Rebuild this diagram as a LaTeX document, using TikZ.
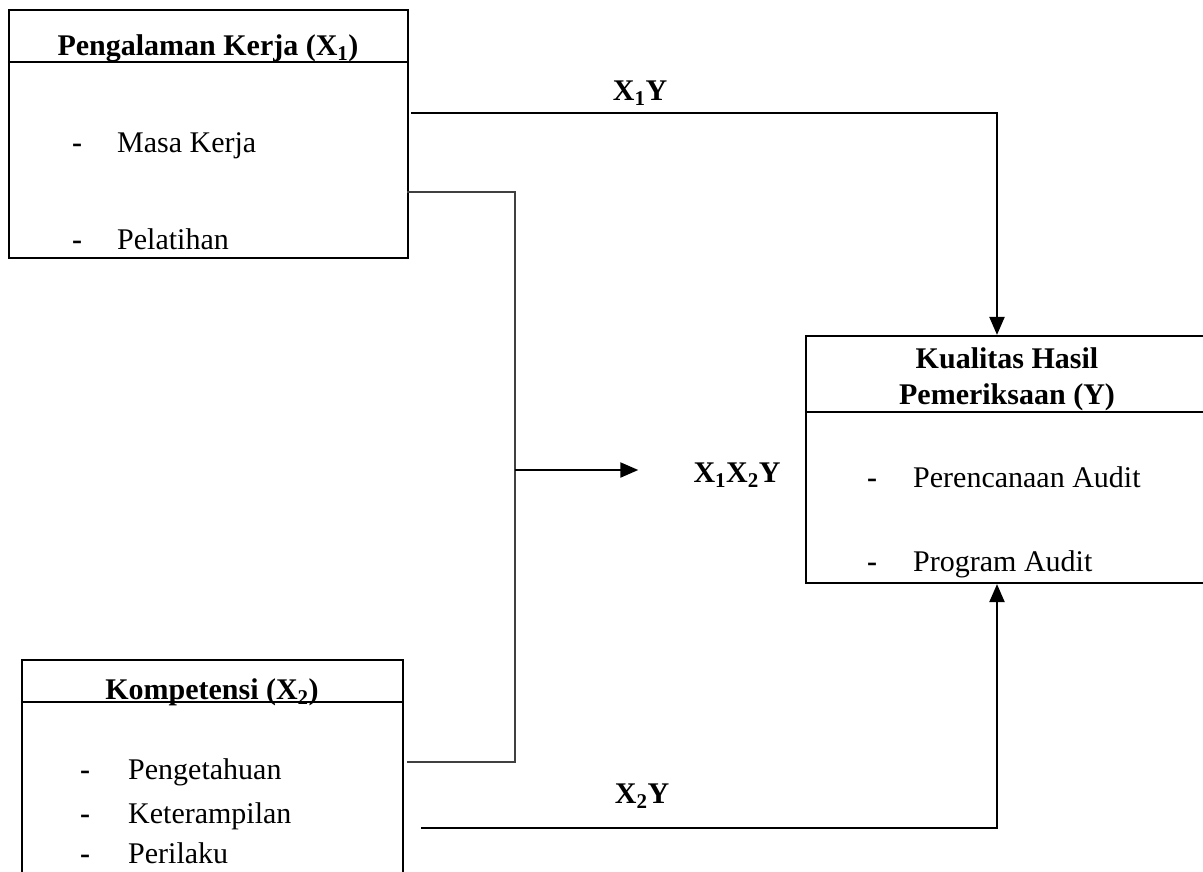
\documentclass[tikz,border=0pt]{standalone}
\usepackage{fontspec}
\setmainfont{Liberation Serif}
\usetikzlibrary{arrows.meta,calc}
\begin{document}
\begin{tikzpicture}[x=1pt,y=-1pt,
  font=\fontsize{30}{36}\selectfont,
  box/.style={draw,line width=2.2pt,rectangle,inner sep=0pt},
  hdr/.style={font=\fontsize{30}{36}\selectfont\bfseries,anchor=base,inner sep=0pt},
  item/.style={anchor=base west,inner sep=0pt},
  dashmark/.style={anchor=base,inner sep=0pt,font=\fontsize{30}{36}\selectfont\bfseries},
  lbl/.style={font=\fontsize{30}{36}\selectfont\bfseries,anchor=base,inner sep=0pt},
  conn/.style={line width=2.2pt,black},
  conng/.style={line width=2.2pt,black!75},
  arr/.style={-{Triangle[length=18pt,width=15pt]}}
]
\clip (0,0) rectangle (1203,871);
\fill[white] (0,0) rectangle (1203,871);

% boxes
\node[box,minimum width=399pt,minimum height=248pt] (x1) at (208.5,134) {};
\node[box,minimum width=420pt,minimum height=247pt] (yb) at (1016,459.5) {};
\node[box,minimum width=381pt,minimum height=240pt] (x2) at (212.5,780) {};

% header separators
\draw[line width=2.2pt] (x1.west |- 0,62) -- (x1.east |- 0,62);
\draw[line width=2.2pt] (yb.west |- 0,412) -- (yb.east |- 0,412);
\draw[line width=2.2pt] (x2.west |- 0,702) -- (x2.east |- 0,702);

% headers
\node[hdr] (h1) at (208,55) {Pengalaman Kerja (X\textsubscript{1})};
\node[hdr] (hy1) at (1007,368) {Kualitas Hasil};
\node[hdr] (hy2) at (1007,404) {Pemeriksaan (Y)};
\node[hdr] (h2) at (212,699) {Kompetensi (X\textsubscript{2})};

% items X1
\node[dashmark] (d11) at (77,152) {-};
\node[item] (i11) at (117,152) {Masa Kerja};
\node[dashmark] (d12) at (77,249) {-};
\node[item] (i12) at (117,249) {Pelatihan};

% items Y
\node[dashmark] (dy1) at (872,487) {-};
\node[item] (iy1) at (913,487) {Perencanaan Audit};
\node[dashmark] (dy2) at (872,571) {-};
\node[item] (iy2) at (913,571) {Program Audit};

% items X2
\node[dashmark] (d21) at (85,779) {-};
\node[item] (i21) at (128,779) {Pengetahuan};
\node[dashmark] (d22) at (85,823) {-};
\node[item] (i22) at (128,823) {Keterampilan};
\node[dashmark] (d23) at (85,863) {-};
\node[item] (i23) at (128,863) {Perilaku};

% labels
\node[lbl] (l1) at (640,100) {X\textsubscript{1}Y};
\node[lbl] (l12) at (737,482) {X\textsubscript{1}X\textsubscript{2}Y};
\node[lbl] (l2) at (642,803) {X\textsubscript{2}Y};

% connectors
\coordinate (ax) at (997,0);
\draw[conn,arr] ([xshift=2pt]x1.east |- 0,113) -| (yb.north -| ax);
\draw[conn,arr] ([xshift=17pt]x2.east |- 0,828) -| (yb.south -| ax);
\coordinate (mx) at (515,0);
\draw[conng] ([xshift=-2pt]x1.east |- 0,192) -| (mx |- 0,470) |- ([xshift=3pt]x2.east |- 0,762);
\draw[conn,arr] (mx |- 0,470) -- ([xshift=-55pt]l12.west |- 0,470);
\end{tikzpicture}
\end{document}
